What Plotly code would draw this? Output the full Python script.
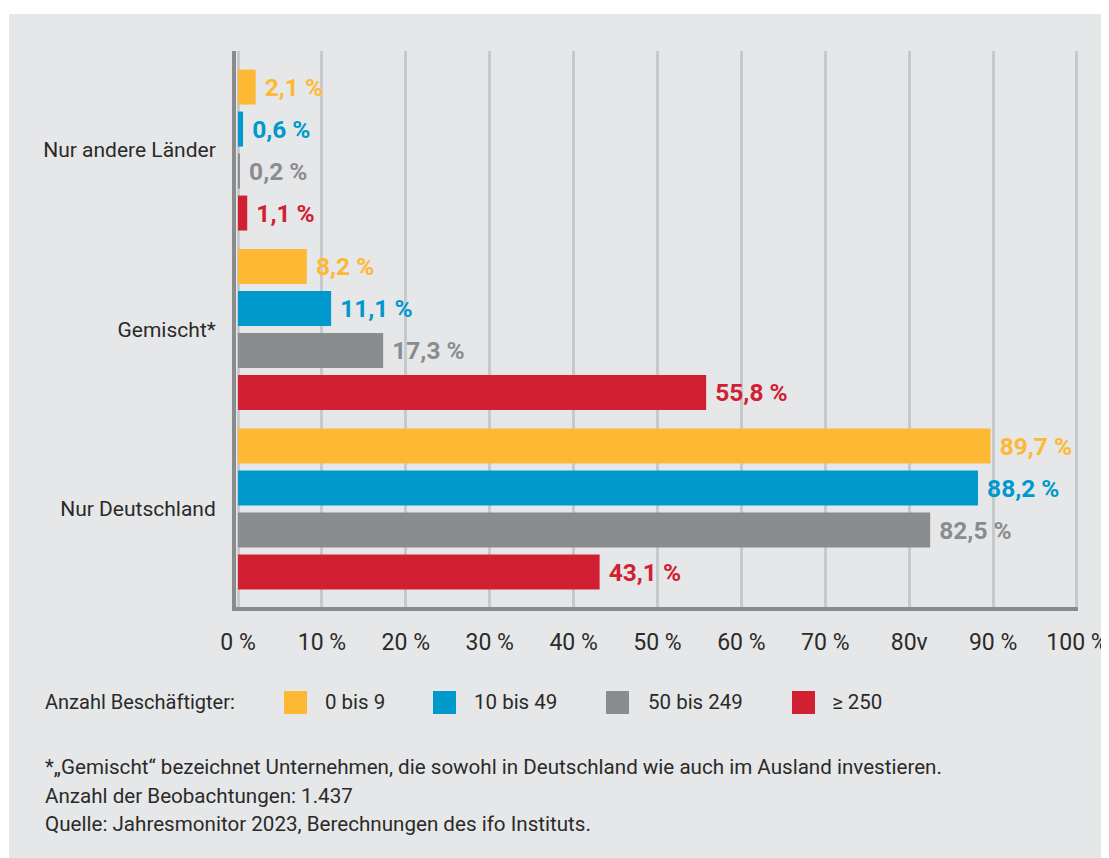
import plotly.graph_objects as go

# ---------------- data ----------------
categories = ["Nur andere Länder", "Gemischt*", "Nur Deutschland"]
series_names = ["0 bis 9", "10 bis 49", "50 bis 249", "≥ 250"]
values_0_9 = [2.1, 8.2, 89.7]
values_10_49 = [0.6, 11.1, 88.2]
values_50_249 = [0.2, 17.3, 82.5]
values_250 = [1.1, 55.8, 43.1]
series_values = [values_0_9, values_10_49, values_50_249, values_250]
tick_vals = [0, 10, 20, 30, 40, 50, 60, 70, 80, 90, 100]
tick_text = ["0 %", "10 %", "20 %", "30 %", "40 %", "50 %", "60 %", "70 %", "80v", "90 %", "100 %"]
legend_title = "Anzahl Beschäftigter:"
footnotes = [
    "*\u201eGemischt\u201c bezeichnet Unternehmen, die sowohl in Deutschland wie auch im Ausland investieren.",
    "Anzahl der Beobachtungen: 1.437",
    "Quelle: Jahresmonitor 2023, Berechnungen des ifo Instituts.",
]

# ---------------- style ----------------
colors = ["#FDB933", "#0099CC", "#8B8C8F", "#D12032"]
BG = "#E6E7E8"
GRID = "#C8C9CB"
AXIS = "#8A8B8D"
TEXT = "#2B2A29"
FONT = "Roboto"

OFF = 8  # page body margin
SW, SH = 1109, 858  # screen size
W, H = SW - OFF, SH - OFF
# plot area in screen pixels
PL, PR, PT, PB = 236, 1078, 51, 607
ML, MR, MT, MB = PL - OFF, SW - PR, PT - OFF, SH - PB
PW, PH = PR - PL, PB - PT


def px2x(sx):
    return (sx - PL) / PW


def py2y(sy):
    return (PB - sy) / PH


def fmt(v):
    return ("%.1f" % v).replace(".", ",") + " %"


fig = go.Figure()
for name, vals, col in zip(series_names, series_values, colors):
    fig.add_trace(go.Bar(
        y=categories, x=vals, orientation="h", name=name,
        marker=dict(color=col, line=dict(width=0)),
        text=["\u00a0" + fmt(v) for v in vals],
        textposition="outside", textangle=0, constraintext="none",
        cliponaxis=False,
        textfont=dict(family=FONT, size=24.5, color=col, weight="bold"),
        showlegend=False,
    ))

shapes = [
    dict(type="rect", xref="paper", yref="paper", x0=px2x(-20), x1=px2x(SW + 20),
         y0=py2y(14), y1=py2y(-20), fillcolor="white", line=dict(width=0), layer="above"),
    dict(type="rect", xref="paper", yref="paper", x0=px2x(-20), x1=px2x(9),
         y0=py2y(SH + 20), y1=py2y(-20), fillcolor="white", line=dict(width=0), layer="above"),
]
annotations = []

TX = 43  # left text x (compensating annotation padding)
annotations.append(dict(xref="paper", yref="paper", x=px2x(TX), y=py2y(702), xanchor="left",
                        yanchor="middle", text=legend_title, showarrow=False,
                        font=dict(family=FONT, size=20, color=TEXT)))
sq_x = [284, 433, 606, 792]
lab_x = [323, 472, 646, 830]
for sx, lx, name, col in zip(sq_x, lab_x, series_names, colors):
    shapes.append(dict(type="rect", xref="paper", yref="paper", x0=px2x(sx), x1=px2x(sx + 23),
                       y0=py2y(714), y1=py2y(691), fillcolor=col, line=dict(width=0)))
    annotations.append(dict(xref="paper", yref="paper", x=px2x(lx), y=py2y(702), xanchor="left",
                            yanchor="middle", text=name, showarrow=False,
                            font=dict(family=FONT, size=20.5, color=TEXT)))

for i, line in enumerate(footnotes):
    annotations.append(dict(xref="paper", yref="paper", x=px2x(TX), y=py2y(767 + 28.5 * i),
                            xanchor="left", yanchor="middle", text=line, showarrow=False,
                            font=dict(family=FONT, size=20.6, color=TEXT)))

fig.update_layout(
    width=W, height=H,
    margin=dict(l=ML, r=MR, t=MT, b=MB, pad=0, autoexpand=False),
    paper_bgcolor=BG, plot_bgcolor=BG,
    barmode="group", bargap=0.064, bargroupgap=0.167,
    font=dict(family=FONT, size=21, color=TEXT),
    shapes=shapes, annotations=annotations,
    xaxis=dict(range=[-0.24, 100.12], tickvals=tick_vals, ticktext=tick_text,
               showgrid=True, gridcolor=GRID, gridwidth=3, zeroline=False,
               showline=True, linecolor=AXIS, linewidth=4, automargin=False,
               ticks="outside", ticklen=11, tickcolor="rgba(0,0,0,0)",
               tickfont=dict(family=FONT, size=23, color=TEXT), fixedrange=True),
    yaxis=dict(type="category", categoryorder="array", categoryarray=categories,
               range=[2.546, -0.552], showgrid=False, zeroline=False,
               showline=True, linecolor=AXIS, linewidth=4, automargin=False,
               ticks="outside", ticklen=12, tickcolor="rgba(0,0,0,0)",
               tickfont=dict(family=FONT, size=21, color=TEXT), fixedrange=True),
)

fig.write_html("out.html")
